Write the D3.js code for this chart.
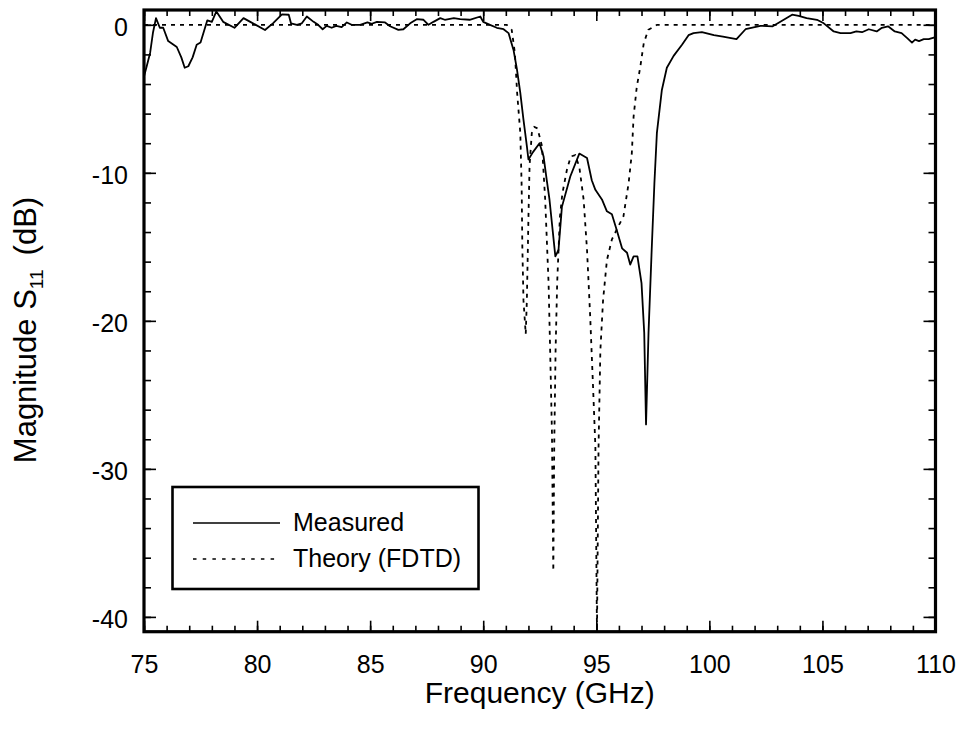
<!DOCTYPE html>
<html>
<head>
<meta charset="utf-8">
<script src="https://cdn.jsdelivr.net/npm/d3@7"></script>
<style>
  body { margin: 0; background: #fff; }
  text { font-family: "Liberation Sans", Arial, Helvetica, sans-serif; fill: #000; }
</style>
</head>
<body>
<div id="chart"></div>
<script>
var width = 962;
var height = 745;
var margin = { top: 10, right: 26.5, bottom: 113.3, left: 144 };

// measured S11 (GHz, dB)
var measuredFreq = [75.0, 75.12, 75.27, 75.4, 75.53, 75.7, 75.85, 76.07, 76.45, 76.65, 76.8, 76.96, 77.15, 77.33, 77.5,
  77.8, 78.0, 78.2, 78.5, 79.0, 79.4, 79.7, 80.35, 80.7, 81.1, 81.4, 81.5, 81.76, 81.98, 82.2, 82.5, 82.7, 82.9,
  83.08, 83.3, 83.5, 83.74, 83.97, 84.18, 84.56, 84.88, 85.07, 85.3, 85.66, 85.88, 86.25, 86.47, 86.77, 87.06,
  87.36, 87.58, 87.8, 88.1, 88.3, 88.7, 88.98, 89.4, 89.87, 90.0, 90.3, 90.6, 90.9, 91.12, 91.34, 91.49, 91.64,
  91.78, 91.93, 92.0, 92.2, 92.49, 92.67, 92.81, 92.93, 93.19, 93.33, 93.48, 93.85, 94.25, 94.59, 94.8, 94.96,
  95.25, 95.47, 95.69, 95.9, 96.14, 96.36, 96.5, 96.65, 96.82, 97.0, 97.12, 97.2, 97.31, 97.45, 97.57, 97.68,
  97.9, 98.12, 98.42, 98.79, 99.08, 99.3, 99.67, 100.2, 100.6, 101.2, 101.6, 102.26, 102.8, 103.14, 103.66,
  103.95, 104.3, 104.76, 105.06, 105.5, 105.8, 106.24, 106.5, 106.75, 107.05, 107.4, 107.63, 107.9, 108.2,
  108.5, 108.75, 108.96, 109.1, 109.27, 109.48, 109.7, 110.0];
var measuredDb = [-3.5, -2.8, -1.9, -0.5, 0.45, -0.2, -0.2, -1.1, -1.5, -2.2, -2.9, -2.8, -2.2, -1.35, -1.2,
  0.3, 0.2, 0.9, 0.2, -0.2, 0.45, 0.2, -0.35, 0.1, 0.7, 0.68, 0.1, 0.0, 0.1, 0.56, 0.2, 0.0, -0.3,
  -0.07, -0.2, -0.07, -0.16, 0.16, 0.0, 0.0, 0.16, 0.07, 0.2, 0.16, -0.1, -0.34, -0.3, 0.1, 0.38,
  0.34, 0.0, 0.2, 0.45, 0.34, 0.45, 0.38, 0.34, 0.56, 0.2, 0.0, -0.2, -0.3, -0.56, -1.7, -3.0, -4.6,
  -6.4, -8.2, -9.1, -8.6, -8.0, -8.9, -10.5, -11.8, -15.65, -15.2, -12.3, -10.25, -8.7, -9.0, -10.5, -11.15,
  -11.8, -12.6, -12.8, -13.85, -15.1, -15.4, -16.2, -15.65, -15.65, -17.45, -20.8, -27.0, -20.8, -15.2, -10.7, -7.3,
  -4.4, -2.9, -2.1, -1.35, -0.7, -0.56, -0.5, -0.7, -0.8, -0.97, -0.3, -0.07, -0.1, 0.2, 0.68,
  0.6, 0.45, 0.34, 0.1, -0.45, -0.56, -0.56, -0.45, -0.5, -0.3, -0.45, -0.2, -0.1, -0.45,
  -0.56, -0.9, -1.2, -1.0, -1.1, -0.97, -0.97, -0.83];

// FDTD theory
var theoryFreq = [75.0, 90.9, 91.04, 91.26, 91.4, 91.5, 91.64, 91.7, 91.73, 91.78, 91.88, 91.93, 92.0, 92.05,
  92.15, 92.26, 92.4, 92.6, 92.74, 92.89, 92.96, 93.04, 93.1, 93.14, 93.2, 93.27, 93.39, 93.5, 93.7, 93.87,
  94.07, 94.25, 94.44, 94.59, 94.73, 94.85, 94.96, 95.03, 95.1, 95.18, 95.3, 95.47, 95.69, 95.98, 96.2, 96.43,
  96.57, 96.65, 96.79, 96.95, 97.1, 97.3, 97.68, 110.0];
var theoryDb = [0, 0, 0, -0.34, -1.9, -4.6, -7.3, -10.9, -15, -18.6, -20.9, -18.6, -13, -9.5,
  -7.3, -6.9, -7.0, -8.2, -11.8, -17.45, -22, -27.6, -36.9, -28.5, -22, -17.45, -13, -11.4, -9.8, -8.9,
  -8.8, -9.6, -11.8, -15.2, -19.7, -24.2, -28.5, -41, -28.5, -22, -18.6, -15.9, -14.5, -13.6, -12.95, -10.7,
  -8.7, -6.2, -4.2, -2.8, -1.24, -0.34, 0, 0];

var xMajor = [75, 80, 85, 90, 95, 100, 105, 110];
var yMajor = [0, -10, -20, -30, -40];
var legendLabels = ["Measured", "Theory (FDTD)"];

var svg = d3.select("#chart").append("svg")
  .attr("width", width)
  .attr("height", height);

var x = d3.scaleLinear().domain([75, 110]).range([margin.left, width - margin.right]);
var y = d3.scaleLinear().domain([-41, 1]).range([height - margin.bottom, margin.top]);

var x0 = x.range()[0], x1 = x.range()[1], y0 = y.range()[1], y1 = y.range()[0];

function noLabel() { return ""; }

// minor + major ticks, all pointing inward
svg.append("g").attr("transform", `translate(0,${y1})`)
  .call(d3.axisBottom(x).tickValues(d3.range(75, 111, 1)).tickSize(-6).tickFormat(noLabel));
svg.append("g").attr("transform", `translate(0,${y1})`)
  .call(d3.axisBottom(x).tickValues(xMajor).tickSize(-11).tickPadding(24).tickFormat(d => String(d)));
svg.append("g").attr("transform", `translate(0,${y0})`)
  .call(d3.axisTop(x).tickValues(d3.range(75, 111, 1)).tickSize(-6).tickFormat(noLabel));
svg.append("g").attr("transform", `translate(0,${y0})`)
  .call(d3.axisTop(x).tickValues(xMajor).tickSize(-11).tickFormat(noLabel));

svg.append("g").attr("transform", `translate(${x0},0)`)
  .call(d3.axisLeft(y).tickValues(d3.range(-40, 1, 2)).tickSize(-7).tickFormat(noLabel));
svg.append("g").attr("transform", `translate(${x0},0)`)
  .call(d3.axisLeft(y).tickValues(yMajor).tickSize(-12).tickPadding(16).tickFormat(d => String(d)));
svg.append("g").attr("transform", `translate(${x1},0)`)
  .call(d3.axisRight(y).tickValues(d3.range(-40, 1, 2)).tickSize(-7).tickFormat(noLabel));
svg.append("g").attr("transform", `translate(${x1},0)`)
  .call(d3.axisRight(y).tickValues(yMajor).tickSize(-12).tickFormat(noLabel));

svg.selectAll(".domain").remove();
svg.selectAll(".tick line").attr("stroke", "#000").attr("stroke-width", 1.6);
svg.selectAll(".tick text")
  .style("font-size", "25px")
  .attr("fill", "#000");
svg.selectAll(".tick text").filter(function () { return this.getAttribute("x") !== null && +this.getAttribute("x") < 0; })
  .attr("dy", "0.42em");

// curves
svg.append("defs").append("clipPath").attr("id", "clip")
  .append("rect").attr("x", x0).attr("y", y0).attr("width", x1 - x0).attr("height", y1 - y0);

var line = d3.line().x(d => x(d[0])).y(d => y(d[1]));

svg.append("path")
  .datum(theoryFreq.map((f, i) => [f, theoryDb[i]]))
  .attr("clip-path", "url(#clip)")
  .attr("fill", "none")
  .attr("stroke", "#000")
  .attr("stroke-width", 1.8)
  .attr("stroke-dasharray", "4,5")
  .attr("d", line);

svg.append("path")
  .datum(measuredFreq.map((f, i) => [f, measuredDb[i]]))
  .attr("clip-path", "url(#clip)")
  .attr("fill", "none")
  .attr("stroke", "#000")
  .attr("stroke-width", 1.8)
  .attr("stroke-linejoin", "round")
  .attr("d", line);

// frame
svg.append("rect")
  .attr("x", x0).attr("y", y0)
  .attr("width", x1 - x0).attr("height", y1 - y0)
  .attr("fill", "none")
  .attr("stroke", "#000")
  .attr("stroke-width", 3.2);

// axis titles
svg.append("text")
  .attr("transform", `translate(${(x0 + x1) / 2},703)`)
  .attr("text-anchor", "middle")
  .style("font-size", "30px")
  .text("Frequency (GHz)");

var yTitle = svg.append("text")
  .attr("transform", "translate(36,330) rotate(-90)")
  .attr("text-anchor", "middle")
  .style("font-size", "31px");
yTitle.append("tspan").text("Magnitude S");
yTitle.append("tspan").attr("dy", 7).style("font-size", "19px").text("11");
yTitle.append("tspan").attr("dy", -7).attr("dx", 14).text("(dB)");

// legend
var legend = svg.append("g");
legend.append("rect")
  .attr("x", 172.5).attr("y", 487)
  .attr("width", 306).attr("height", 102)
  .attr("fill", "#fff")
  .attr("stroke", "#000")
  .attr("stroke-width", 2.6);

var legendRows = legend.selectAll("g.row")
  .data(legendLabels)
  .join("g")
  .attr("class", "row")
  .attr("transform", (d, i) => `translate(0,${523 + i * 36})`);

legendRows.append("line")
  .attr("x1", 193).attr("x2", 280)
  .attr("stroke", "#000")
  .attr("stroke-width", (d, i) => i === 0 ? 1.5 : 1.3)
  .attr("stroke-dasharray", (d, i) => i === 0 ? null : "3.5,6.2");

legendRows.append("text")
  .attr("x", 293)
  .attr("y", 8)
  .style("font-size", "25px")
  .text(d => d);
</script>
</body>
</html>
